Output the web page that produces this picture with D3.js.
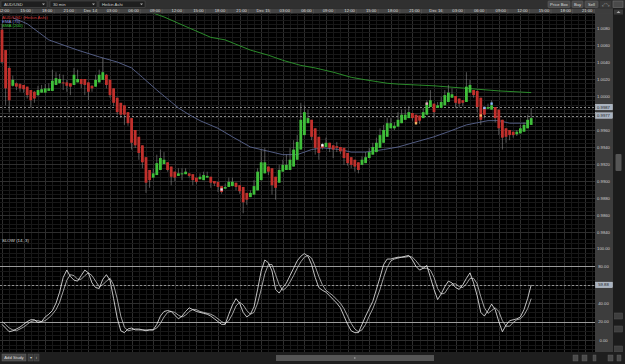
<!DOCTYPE html>
<html><head><meta charset="utf-8">
<script src="https://cdn.jsdelivr.net/npm/d3@7"></script>
<style>
html,body{margin:0;padding:0;background:#000;overflow:hidden;}
svg{display:block;font-family:"Liberation Sans",Arial,sans-serif;}
</style></head><body>
<svg id="chart" width="625" height="364"></svg>
<script>
// Heikin Ashi 30 min bars, AUD/USD, starting Dec 13 12:00
const opens = [1.0078,1.0054,1.0033,1.0012,1.0015,1.0014,1.0013,1.0011,1.0007,1.0005,
1.0001,1.0004,1.0004,1.0006,1.0006,1.0013,1.0015,1.0016,1.0016,1.0015,
1.0013,1.0016,1.0020,1.0020,1.0016,1.0012,1.0011,1.0016,1.0019,1.0025,
1.0019,1.0009,0.9998,0.9992,0.9989,0.9981,0.9974,0.9960,0.9952,0.9942,
0.9928,0.9913,0.9904,0.9907,0.9913,0.9920,0.9922,0.9917,0.9911,0.9906,
0.9908,0.9908,0.9909,0.9908,0.9904,0.9902,0.9901,0.9904,0.9905,0.9900,
0.9899,0.9894,0.9891,0.9893,0.9894,0.9898,0.9895,0.9893,0.9886,0.9881,
0.9884,0.9889,0.9901,0.9909,0.9917,0.9915,0.9905,0.9898,0.9911,0.9913,
0.9913,0.9917,0.9925,0.9937,0.9954,0.9968,0.9972,0.9962,0.9952,0.9942,
0.9940,0.9945,0.9942,0.9941,0.9940,0.9939,0.9933,0.9928,0.9925,0.9922,
0.9919,0.9921,0.9927,0.9931,0.9934,0.9939,0.9945,0.9952,0.9962,0.9962,
0.9964,0.9968,0.9972,0.9974,0.9980,0.9978,0.9977,0.9974,0.9978,0.9987,
0.9991,0.9986,0.9986,0.9989,0.9993,0.9998,1.0000,0.9997,0.9995,0.9993,
1.0004,1.0007,1.0006,0.9998,0.9987,0.9985,0.9984,0.9987,0.9984,0.9972,
0.9962,0.9960,0.9958,0.9955,0.9956,0.9958,0.9962,0.9966];
const closes = [1.0040,1.0009,0.9995,1.0019,1.0011,1.0009,1.0008,1.0001,0.9995,0.9997,
1.0007,1.0008,1.0009,1.0009,1.0018,1.0021,1.0020,1.0015,1.0012,1.0011,
1.0025,1.0020,1.0014,1.0013,1.0005,1.0009,1.0019,1.0025,1.0028,1.0013,
1.0001,0.9992,0.9981,0.9978,0.9978,0.9968,0.9945,0.9942,0.9933,0.9922,
0.9898,0.9901,0.9909,0.9921,0.9927,0.9925,0.9913,0.9905,0.9904,0.9909,
0.9909,0.9911,0.9906,0.9901,0.9899,0.9905,0.9907,0.9906,0.9898,0.9897,
0.9893,0.9887,0.9893,0.9899,0.9899,0.9893,0.9888,0.9875,0.9878,0.9886,
0.9894,0.9911,0.9922,0.9922,0.9911,0.9895,0.9892,0.9913,0.9919,0.9919,
0.9925,0.9937,0.9946,0.9972,0.9981,0.9974,0.9952,0.9939,0.9933,0.9939,
0.9945,0.9939,0.9937,0.9939,0.9935,0.9927,0.9921,0.9919,0.9917,0.9913,
0.9925,0.9928,0.9934,0.9940,0.9945,0.9954,0.9960,0.9968,0.9968,0.9965,
0.9972,0.9978,0.9978,0.9981,0.9974,0.9969,0.9971,0.9981,0.9992,0.9995,
0.9981,0.9989,0.9993,1.0001,1.0004,1.0002,0.9992,0.9991,0.9992,1.0011,
1.0013,1.0001,0.9987,0.9972,0.9978,0.9987,0.9989,0.9974,0.9962,0.9951,
0.9952,0.9954,0.9954,0.9958,0.9962,0.9966,0.9972,0.9974];
const highs = [1.0085,1.0054,1.0035,1.0024,1.0016,1.0015,1.0013,1.0011,1.0007,1.0006,
1.0012,1.0013,1.0014,1.0015,1.0031,1.0028,1.0026,1.0025,1.0019,1.0015,
1.0033,1.0031,1.0020,1.0020,1.0016,1.0013,1.0025,1.0031,1.0045,1.0026,
1.0019,1.0009,0.9998,0.9992,0.9989,0.9981,0.9974,0.9960,0.9952,0.9942,
0.9928,0.9913,0.9915,0.9931,0.9937,0.9934,0.9922,0.9917,0.9911,0.9915,
0.9915,0.9915,0.9909,0.9908,0.9904,0.9909,0.9911,0.9911,0.9905,0.9900,
0.9899,0.9894,0.9897,0.9904,0.9904,0.9898,0.9895,0.9893,0.9886,0.9889,
0.9901,0.9915,0.9937,0.9939,0.9917,0.9915,0.9905,0.9919,0.9925,0.9931,
0.9939,0.9948,0.9954,0.9992,0.9989,0.9984,0.9972,0.9962,0.9952,0.9945,
0.9951,0.9945,0.9942,0.9946,0.9940,0.9939,0.9933,0.9928,0.9925,0.9922,
0.9929,0.9934,0.9939,0.9945,0.9951,0.9962,0.9966,0.9974,0.9974,0.9969,
0.9981,0.9984,0.9984,0.9988,0.9980,0.9978,0.9977,0.9986,0.9995,1.0007,
0.9991,0.9993,0.9999,1.0007,1.0013,1.0009,1.0000,0.9997,0.9995,1.0028,
1.0019,1.0007,1.0006,0.9998,0.9987,0.9991,0.9995,0.9987,0.9984,0.9972,
0.9962,0.9960,0.9958,0.9960,0.9966,0.9969,0.9978,0.9986];
const lows = [1.0038,0.9989,0.9981,1.0011,1.0007,1.0005,1.0004,0.9997,0.9986,0.9992,
1.0000,1.0004,1.0004,1.0006,1.0006,1.0013,1.0015,1.0007,1.0005,1.0001,
1.0013,1.0016,1.0009,1.0001,0.9995,1.0005,1.0011,1.0016,1.0019,1.0009,
0.9998,0.9988,0.9978,0.9974,0.9966,0.9965,0.9937,0.9939,0.9925,0.9915,
0.9886,0.9892,0.9904,0.9907,0.9913,0.9920,0.9911,0.9895,0.9900,0.9906,
0.9901,0.9908,0.9904,0.9895,0.9897,0.9902,0.9901,0.9904,0.9892,0.9894,
0.9887,0.9885,0.9891,0.9893,0.9894,0.9889,0.9885,0.9862,0.9872,0.9881,
0.9884,0.9889,0.9901,0.9909,0.9907,0.9884,0.9878,0.9898,0.9911,0.9913,
0.9913,0.9917,0.9925,0.9937,0.9954,0.9968,0.9948,0.9931,0.9925,0.9937,
0.9940,0.9934,0.9927,0.9934,0.9932,0.9919,0.9918,0.9915,0.9911,0.9909,
0.9919,0.9921,0.9927,0.9931,0.9934,0.9939,0.9945,0.9952,0.9962,0.9960,
0.9964,0.9968,0.9972,0.9974,0.9971,0.9966,0.9967,0.9974,0.9978,0.9987,
0.9974,0.9986,0.9986,0.9989,0.9993,0.9998,0.9986,0.9986,0.9988,0.9993,
1.0004,0.9998,0.9981,0.9966,0.9974,0.9985,0.9984,0.9969,0.9954,0.9937,
0.9945,0.9948,0.9951,0.9953,0.9956,0.9958,0.9962,0.9966];

// EMA (75) and SMA (200), read at a few bars
const emaBars = [3,7,13,21,27,32,36,39,43,47,49,52,55,60,64,69,72,78,82,86,89,94,97,101,106,110,115,120,124,129,135,138,141,146];
const emaValues = [1.0092,1.0085,1.0066,1.0054,1.0046,1.0040,1.0033,1.0022,1.0007,0.9993,0.9986,0.9978,0.9971,0.9962,0.9952,0.9940,0.9937,0.9931,0.9931,0.9937,0.9939,0.9937,0.9934,0.9934,0.9937,0.9940,0.9946,0.9952,0.9958,0.9966,0.9971,0.9971,0.9968,0.9968];
const smaBars = [41,45,52,58,62,69,74,78,83,87,92,97,101,107,110,120,129,138,147];
const smaValues = [1.0099,1.0093,1.0080,1.0069,1.0066,1.0054,1.0048,1.0042,1.0036,1.0033,1.0028,1.0022,1.0019,1.0015,1.0014,1.0012,1.0009,1.0006,1.0004];

// Slow stochastic (14, 3)
const stochK = [17,13,9,10,12,14,17,20,22,22,
19,20,25,28,32,40,52,68,76,69,
65,64,70,76,73,62,57,56,66,71,
65,45,24,10,8,12,13,11,11,11,
10,11,11,17,26,31,32,31,27,23,
26,31,35,33,31,30,29,28,26,23,
20,17,17,28,38,45,40,30,25,28,
36,55,75,87,84,75,55,51,57,62,
70,78,86,91,94,91,82,68,57,54,
52,48,44,40,35,26,17,10,8,8,
17,26,34,42,55,68,82,88,88,89,
90,90,91,92,87,80,76,78,81,68,
55,44,50,58,64,62,57,55,60,67,
73,62,48,30,26,32,39,33,20,9,
16,21,22,23,25,33,45,59.88];
const stochD = [20,17,13,11,10,12,14,17,20,21,
21,20,21,24,28,33,41,53,65,71,
70,66,66,70,73,70,64,58,60,64,
67,60,45,26,14,10,11,12,12,11,
11,11,11,13,18,25,30,31,30,27,
25,27,31,33,33,31,30,29,28,26,
23,20,18,21,28,37,41,38,32,28,
30,40,55,72,82,82,71,60,54,57,
63,70,78,85,90,92,89,80,69,60,
54,51,48,44,40,34,26,18,12,9,
11,17,26,34,44,55,68,79,86,88,
89,90,90,91,90,86,81,78,78,76,
68,56,50,51,57,61,61,58,57,61,
67,67,61,47,35,29,32,35,31,21,
15,15,19,22,23,27,34,45];

// trade markers on the price panel
const markBars = [61,89,115,118,133,134,136];
const markPrices = [0.9890,0.9942,0.9968,0.9991,0.9977,0.9986,0.9991];
const markColors = ["#dde","#fff","#f0b060","#e8a0c0","#f0b060","#8ac0ff","#8ac0ff"];

const priceTicks = [1.0080,1.0060,1.0040,1.0020,1.0000,0.9980,0.9960,0.9940,0.9920,0.9900,0.9880,0.9860,0.9840];
const stochTicks = [100,80,60,40,20,0];
const priceLevels = [0.9987,0.9977];
const stochLevel = 59.88;

const W = 625, H = 364, PR = 595, MT = 13.5, MB = 236, ST = 237, SB = 352;
const svg = d3.select("#chart");

const x = d3.scaleLinear().domain([0, 1]).range([2, 5.6]);
const y = d3.scaleLinear().domain([0.9840, 1.0080]).range([232, 28]);
const ys = d3.scaleLinear().domain([0, 100]).range([340, 248]);

svg.append("rect").attr("width", W).attr("height", H).attr("fill", "#000");

const defs = svg.append("defs");
defs.append("clipPath").attr("id", "cm").append("rect").attr("x", 0).attr("y", MT).attr("width", PR).attr("height", MB - MT);
defs.append("clipPath").attr("id", "cs").append("rect").attr("x", 0).attr("y", ST).attr("width", PR).attr("height", SB - ST);

// grid
const grid = svg.append("g").attr("shape-rendering", "crispEdges");
d3.range(-4, 168, 2).forEach(i => {
  const xx = Math.round(x(i)) + 0.5;
  if (xx > PR) return;
  const major = i % 6 === 0;
  grid.append("line").attr("x1", xx).attr("x2", xx).attr("y1", MT).attr("y2", SB)
    .attr("stroke", major ? "#2e2e2e" : "#181818");
});
d3.range(-8, 64).forEach(k => {
  const p = 0.9820 + k * 0.0005;
  const yy = Math.round(y(p)) + 0.5;
  if (yy < MT || yy > MB) return;
  grid.append("line").attr("x1", 0).attr("x2", PR).attr("y1", yy).attr("y2", yy)
    .attr("stroke", k % 4 === 0 ? "#2e2e2e" : "#181818");
});
d3.range(-2, 23).forEach(k => {
  const v = k * 5;
  const yy = Math.round(ys(v)) + 0.5;
  if (yy < ST || yy > SB) return;
  grid.append("line").attr("x1", 0).attr("x2", PR).attr("y1", yy).attr("y2", yy)
    .attr("stroke", k % 4 === 0 ? "#2e2e2e" : "#181818");
});

// main panel
const main = svg.append("g").attr("clip-path", "url(#cm)");
main.selectAll("line.lvl").data(priceLevels).join("line")
  .attr("x1", 0).attr("x2", PR).attr("y1", d => Math.round(y(d)) + 0.5).attr("y2", d => Math.round(y(d)) + 0.5)
  .attr("stroke", "#aaa").attr("stroke-dasharray", "2,2").attr("stroke-width", 0.8);

const lineP = d3.line().x(d => x(d[0])).y(d => y(d[1]));
main.append("path").attr("d", lineP(smaBars.map((b, i) => [b, smaValues[i]])))
  .attr("fill", "none").attr("stroke", "#2f9a2f").attr("stroke-width", 0.9);
main.append("path").attr("d", lineP(emaBars.map((b, i) => [b, emaValues[i]])))
  .attr("fill", "none").attr("stroke", "#5a6590").attr("stroke-width", 0.9);

const bars = d3.range(opens.length);
main.selectAll("line.wick").data(bars).join("line")
  .attr("x1", i => x(i)).attr("x2", i => x(i))
  .attr("y1", i => y(highs[i])).attr("y2", i => y(lows[i]))
  .attr("stroke", "#8a8a8a").attr("stroke-width", 0.6);
main.selectAll("rect.body").data(bars).join("rect")
  .attr("x", i => x(i) - 1.4).attr("width", 2.8)
  .attr("y", i => y(Math.max(opens[i], closes[i])))
  .attr("height", i => Math.max(1, y(Math.min(opens[i], closes[i])) - y(Math.max(opens[i], closes[i]))))
  .attr("fill", i => closes[i] >= opens[i] ? "#3fbf3a" : "#c0302c");

main.selectAll("rect.mk").data(markBars).join("rect")
  .attr("x", (b) => x(b) - 1.2).attr("y", (b, i) => y(markPrices[i]) - 1.2)
  .attr("width", 2.4).attr("height", 2.4).attr("fill", (b, i) => markColors[i]);

// legend
const leg = svg.append("g").attr("font-size", 4.4);
leg.append("text").attr("x", 2).attr("y", 18.6).attr("fill", "#d03a3a").text("AUD/USD (Heikin Ashi)");
leg.append("text").attr("x", 2).attr("y", 22.8).attr("fill", "#8c9ae0").text("EMA (75)");
leg.append("text").attr("x", 2).attr("y", 27).attr("fill", "#3cc83c").text("SMA (200)");

// stochastic panel
const stoch = svg.append("g").attr("clip-path", "url(#cs)");
[80, 20].forEach(v => stoch.append("line").attr("x1", 0).attr("x2", PR)
  .attr("y1", Math.round(ys(v)) + 0.5).attr("y2", Math.round(ys(v)) + 0.5)
  .attr("stroke", "#9a9a9a").attr("stroke-width", 1.2));
stoch.append("line").attr("x1", 0).attr("x2", PR)
  .attr("y1", Math.round(ys(stochLevel)) + 0.5).attr("y2", Math.round(ys(stochLevel)) + 0.5)
  .attr("stroke", "#aaa").attr("stroke-dasharray", "2,2").attr("stroke-width", 0.8);
const lineS = d3.line().x((d, i) => x(i)).y(d => ys(d));
stoch.append("path").attr("d", lineS(stochD)).attr("fill", "none").attr("stroke", "#c8c8c8").attr("stroke-width", 0.8);
stoch.append("path").attr("d", lineS(stochK)).attr("fill", "none").attr("stroke", "#f2f2f2").attr("stroke-width", 0.8);
svg.append("text").attr("x", 2).attr("y", 241.5).attr("font-size", 4.4).attr("fill", "#ddd").text("SLOW (14, 3)");

// price axis column
const ax = svg.append("g");
ax.append("rect").attr("x", PR).attr("y", 13).attr("width", 18).attr("height", 339).attr("fill", "#3d3d3d");
const boxYs = priceLevels.map(p => y(p));
ax.selectAll("text.pt").data(priceTicks.filter(p => boxYs.every(b => Math.abs(y(p) - b) > 5))).join("text")
  .attr("x", 603.5).attr("y", d => y(d) + 1.5).attr("text-anchor", "middle")
  .attr("font-size", 4.2).attr("fill", "#cfcfcf").text(d => d.toFixed(4));
ax.selectAll("text.st").data(stochTicks.filter(v => Math.abs(ys(v) - ys(stochLevel)) > 5)).join("text")
  .attr("x", 603.5).attr("y", d => ys(d) + 1.5).attr("text-anchor", "middle")
  .attr("font-size", 4.2).attr("fill", "#cfcfcf").text(d => d.toFixed(2));
const boxes = priceLevels.map(p => [y(p), p.toFixed(4)]).concat([[ys(stochLevel), stochLevel.toFixed(2)]]);
boxes.forEach(([yy, t]) => {
  ax.append("rect").attr("x", PR + 0.5).attr("y", yy - 2.8).attr("width", 17).attr("height", 5.6)
    .attr("fill", "#a9b3c0").attr("stroke", "#d8dde4").attr("stroke-width", 0.4);
  ax.append("text").attr("x", 603.5).attr("y", yy + 1.5).attr("text-anchor", "middle")
    .attr("font-size", 4.2).attr("fill", "#1c1c1c").text(t);
});

// right scroll column
svg.append("rect").attr("x", 613).attr("y", 8.5).attr("width", 12).attr("height", 344).attr("fill", "#1c1c1c");
svg.append("rect").attr("x", 614).attr("y", 9.5).attr("width", 9).attr("height", 5).attr("fill", "#3a3a3a");
svg.append("path").attr("d", "M616.5,13 L620.5,13 L618.5,11 Z").attr("fill", "#aaa");
svg.append("rect").attr("x", 615.5).attr("y", 154).attr("width", 6).attr("height", 17).attr("fill", "#555").attr("rx", 1);
[313, 326, 346].forEach(yy => svg.append("rect").attr("x", 614.5).attr("y", yy).attr("width", 8).attr("height", 6).attr("fill", "#3e3e3e").attr("stroke", "#555").attr("stroke-width", 0.5));

// toolbar and time axis row
svg.append("rect").attr("x", 0).attr("y", 0).attr("width", W).attr("height", 8.5).attr("fill", "#303030");
svg.append("rect").attr("x", 0).attr("y", 8.5).attr("width", PR + 18).attr("height", 5).attr("fill", "#444");
const base = new Date(2010, 11, 13, 12, 0);
const fmtH = d3.timeFormat("%H:%M"), fmtD = d3.timeFormat("%b %d");
const tickBars = d3.range(0, 168, 6);
const ta = svg.append("g").attr("font-size", 4.2).attr("fill", "#dcdcdc");
tickBars.forEach(b => {
  const d = new Date(base.getTime() + b * 30 * 60000);
  const xx = x(b);
  if (xx > PR + 4) return;
  ta.append("text").attr("x", xx + 2).attr("y", 12.4).attr("text-anchor", "middle")
    .text(d.getHours() === 0 ? fmtD(d) : fmtH(d));
  ta.append("line").attr("x1", xx + 9).attr("x2", xx + 9).attr("y1", 9).attr("y2", 13.5)
    .attr("stroke", "#5a5a5a").attr("stroke-width", 0.6);
});
svg.append("rect").attr("x", PR).attr("y", 8.5).attr("width", 18).attr("height", 5).attr("fill", "#3d3d3d");

const tb = svg.append("g").attr("font-size", 4.2);
[["AUD/USD", 1, 47], ["30 min", 50, 97], ["Heikin Ashi", 99, 145]].forEach(([t, x0, x1]) => {
  tb.append("rect").attr("x", x0).attr("y", 1).attr("width", x1 - x0).attr("height", 6.5)
    .attr("fill", "#1e1e1e").attr("stroke", "#555").attr("stroke-width", 0.5);
  tb.append("text").attr("x", x0 + 3).attr("y", 5.8).attr("fill", "#ccc").text(t);
  tb.append("path").attr("d", `M${x1 - 5},3.6 L${x1 - 2},3.6 L${x1 - 3.5},5.3 Z`).attr("fill", "#aaa");
});
[["Price Box", 548, 570], ["Buy", 572, 583], ["Sell", 585, 598]].forEach(([t, x0, x1]) => {
  tb.append("rect").attr("x", x0).attr("y", 1).attr("width", x1 - x0).attr("height", 6.5)
    .attr("fill", "#4a4a4a").attr("stroke", "#666").attr("stroke-width", 0.5).attr("rx", 0.8);
  tb.append("text").attr("x", (x0 + x1) / 2).attr("y", 5.8).attr("text-anchor", "middle").attr("fill", "#ddd").text(t);
});
tb.append("rect").attr("x", 600).attr("y", 1).attr("width", 11).attr("height", 6.5).attr("fill", "#3a3a3a");
tb.append("text").attr("x", 605.5).attr("y", 5.8).attr("text-anchor", "middle").attr("fill", "#bbb").text("⤢ ⤡");
tb.append("rect").attr("x", 613).attr("y", 1).attr("width", 10).attr("height", 6.5).attr("fill", "#4a4a4a").attr("stroke", "#777").attr("stroke-width", 0.5);

// bottom bar
svg.append("rect").attr("x", 0).attr("y", SB).attr("width", W).attr("height", H - SB).attr("fill", "#1e1e1e");
svg.append("rect").attr("x", 2).attr("y", 354).attr("width", 24).attr("height", 7).attr("fill", "#4a4a4a").attr("stroke", "#666").attr("stroke-width", 0.5);
svg.append("text").attr("x", 14).attr("y", 359.2).attr("text-anchor", "middle").attr("font-size", 4.2).attr("fill", "#ddd").text("Add Study");
[[28, "▾"], [34, "i"]].forEach(([xx, t]) => {
  svg.append("rect").attr("x", xx).attr("y", 354).attr("width", 5).attr("height", 7).attr("fill", "#3a3a3a").attr("stroke", "#555").attr("stroke-width", 0.5);
  svg.append("text").attr("x", xx + 2.5).attr("y", 359).attr("text-anchor", "middle").attr("font-size", 4).attr("fill", "#ccc").text(t);
});
svg.append("rect").attr("x", 276).attr("y", 355).attr("width", 158).attr("height", 6).attr("fill", "#555");
svg.append("rect").attr("x", 354).attr("y", 357).attr("width", 1.5).attr("height", 2).attr("fill", "#888");
[[573, 5], [582, 5], [593, 3], [608, 5], [617, 4]].forEach(([xx, w]) =>
  svg.append("rect").attr("x", xx).attr("y", 355).attr("width", w).attr("height", 6).attr("fill", "#4a4a4a").attr("stroke", "#666").attr("stroke-width", 0.4));
</script>
</body></html>
